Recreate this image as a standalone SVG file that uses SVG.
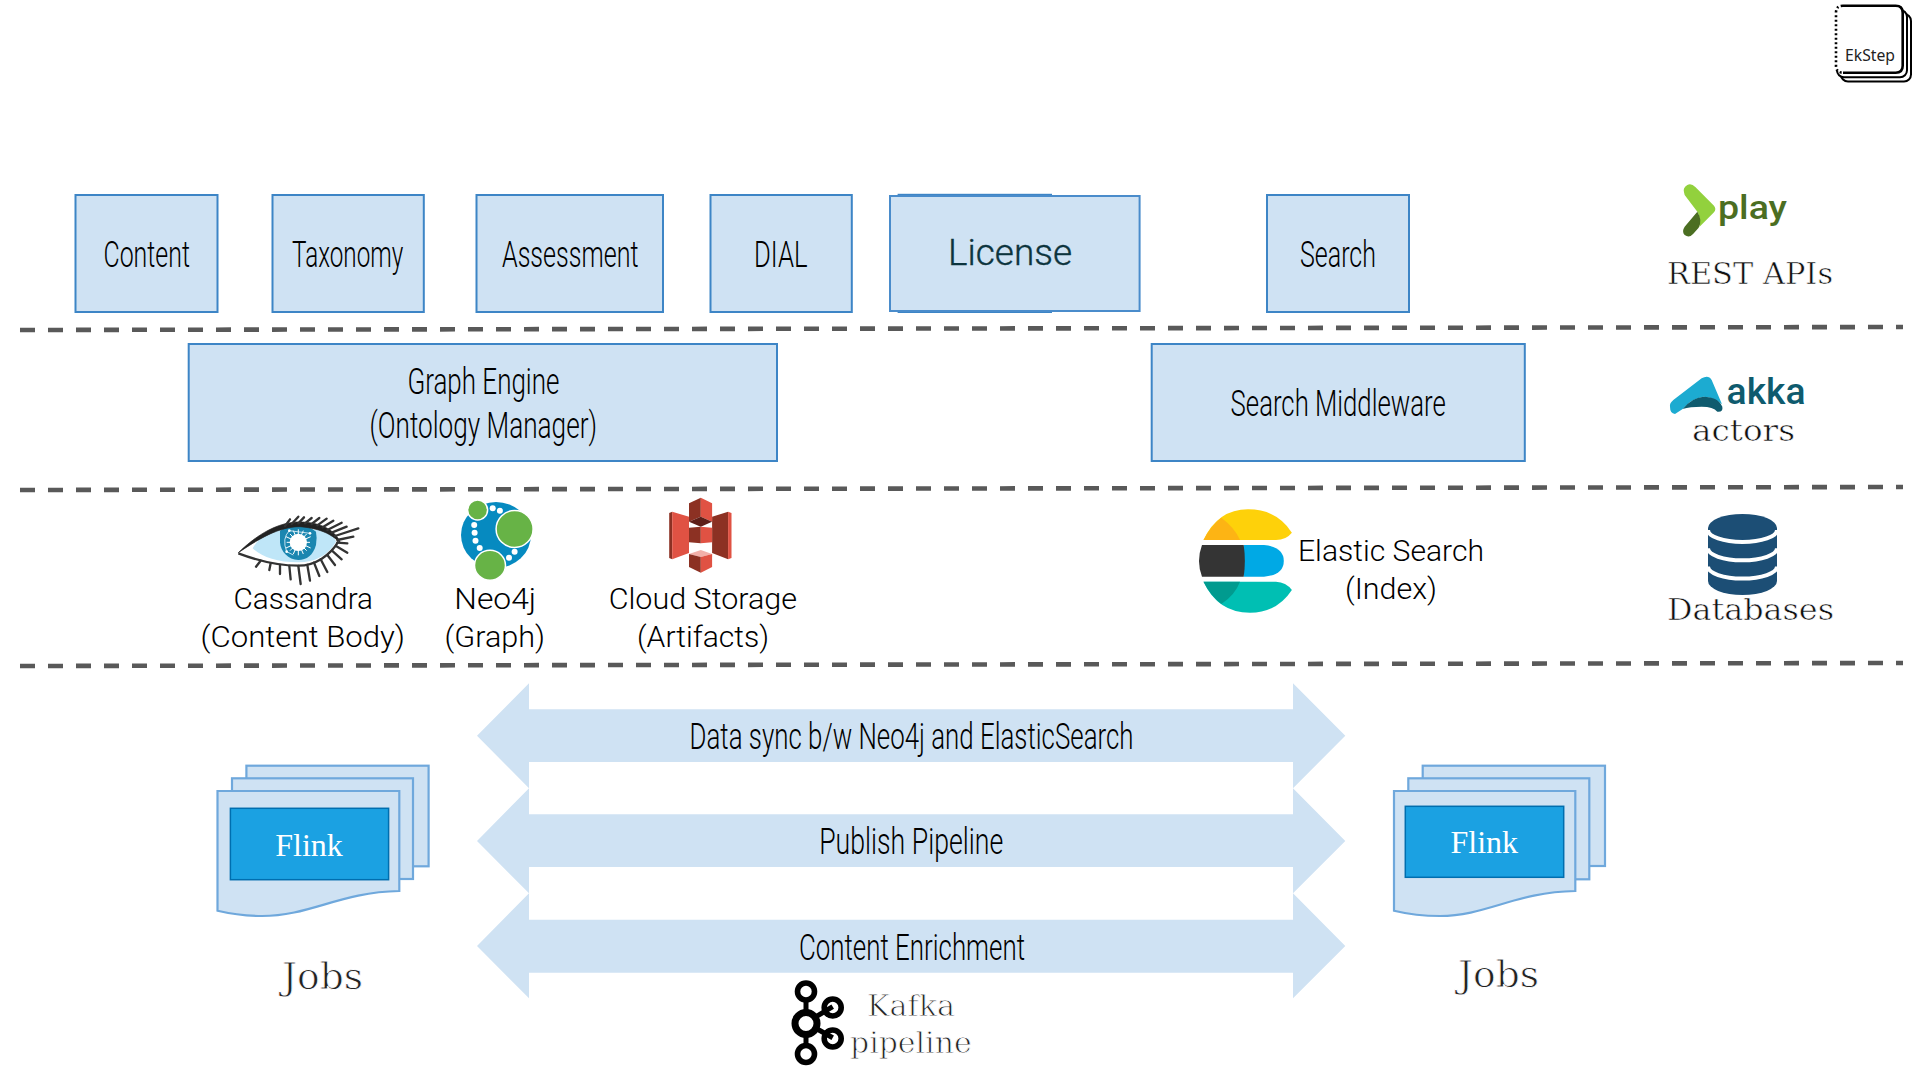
<svg xmlns="http://www.w3.org/2000/svg" width="1921" height="1081" viewBox="0 0 1921 1081">
<style>
text{font-family:"Roboto","Liberation Sans",sans-serif}
.box{fill:#cfe2f3;stroke:#3d85c6;stroke-width:2}
.cond{font-family:"Roboto","Liberation Sans Narrow",sans-serif;font-weight:300;font-size:36px;fill:#000}
.body{font-family:"Roboto","Liberation Sans",sans-serif;font-weight:300;font-size:30px;fill:#000}
.slab{font-family:"DejaVu Serif",serif;fill:#111;font-size:30px;stroke:#fff;stroke-width:.6px}
.thin{fill:#222;stroke-width:.85px}
.flink{font-family:"Liberation Serif",serif;font-size:32px;fill:#fff}
.page{fill:#cfe2f3;stroke:#6fa8dc;stroke-width:2.2}
.job{fill:#1ba1e2;stroke:#006eaf;stroke-width:1.5}
.dash{fill:none;stroke:#595959;stroke-width:4.6;stroke-dasharray:15 13}
.band{fill:#cfe2f3}
.lash{stroke:#333;stroke-width:7;fill:none;stroke-linecap:round}
.ring{fill:none;stroke:#000;stroke-width:5.6}
.link{stroke:#000;stroke-width:5;fill:none}
.dot{fill:#fff}
</style>

<g id="connectors">
<path class="dash" d="M20 330L1903 327"/>
<path class="dash" d="M20 490L1903 487"/>
<path class="dash" d="M20 666L1903 663"/>
<path class="band" d="M477 735.7L529 683.3V709.3H1293V683.3L1345.3 735.7L1293 788.3V762H529V788.3Z"/>
<path class="band" d="M477 841L529 788.3V814.3H1293V788.3L1345.3 841L1293 893.3V867H529V893.3Z"/>
<path class="band" d="M477 946L529 893.3V919.7H1293V893.3L1345.3 946L1293 998.3V972.7H529V998.3Z"/>
<text class="cond" x="689.5" y="748.8" textLength="444" lengthAdjust="spacingAndGlyphs">Data sync b/w Neo4j and ElasticSearch</text>
<text class="cond" x="819.2" y="854.2" textLength="184" lengthAdjust="spacingAndGlyphs">Publish Pipeline</text>
<text class="cond" x="799" y="959.8" textLength="226" lengthAdjust="spacingAndGlyphs">Content Enrichment</text>
</g>

<g id="node-content"><rect class="box" x="75.5" y="195" width="142" height="117"/><text class="cond" x="103.500" y="266.7" textLength="86.4" lengthAdjust="spacingAndGlyphs">Content</text></g>
<g id="node-taxonomy"><rect class="box" x="272.5" y="195" width="151.300" height="117"/><text class="cond" x="292" y="266.7" textLength="111.300" lengthAdjust="spacingAndGlyphs">Taxonomy</text></g>
<g id="node-assessment"><rect class="box" x="476.5" y="195" width="186.500" height="117"/><text class="cond" x="502" y="266.7" textLength="136.500" lengthAdjust="spacingAndGlyphs">Assessment</text></g>
<g id="node-dial"><rect class="box" x="710.5" y="195" width="141.300" height="117"/><text class="cond" x="754" y="266.7" textLength="53.500" lengthAdjust="spacingAndGlyphs">DIAL</text></g>
<g id="node-license">
<rect class="box" x="898.6" y="194.800" width="152.400" height="117.200"/>
<rect x="890" y="196" width="249.600" height="115" fill="#cfe2f3" stroke="#4a8ccb" stroke-width="2"/>
<text x="948" y="265" font-size="36" font-weight="300" fill="#0c343d" stroke="#0c343d" stroke-width=".35" textLength="124" lengthAdjust="spacingAndGlyphs">License</text></g>
<g id="node-search"><rect class="box" x="1267" y="195" width="142" height="117"/><text class="cond" x="1300" y="266.7" textLength="76" lengthAdjust="spacingAndGlyphs">Search</text></g>
<g id="node-graph-engine"><rect class="box" x="188.7" y="344" width="588.300" height="117"/><text class="cond" x="407.400" y="393.800" textLength="152" lengthAdjust="spacingAndGlyphs">Graph Engine</text><text class="cond" x="369.500" y="437.800" textLength="227.500" lengthAdjust="spacingAndGlyphs">(Ontology Manager)</text></g>
<g id="node-search-middleware"><rect class="box" x="1151.700" y="344" width="373.100" height="117"/><text class="cond" x="1230.600" y="415.700" textLength="215.100" lengthAdjust="spacingAndGlyphs">Search Middleware</text></g>

<g id="node-ekstep">
<rect x="1841" y="14" width="70" height="67.500" rx="7" fill="#fff" stroke="#000" stroke-width="2"/>
<rect x="1837" y="10" width="70" height="67.300" rx="7" fill="#fff" stroke="#000" stroke-width="2"/>
<path d="M1843 5.700H1895.700Q1902.700 5.700 1902.700 12.700V65.700Q1902.700 72.700 1895.700 72.700H1843" fill="#fff" stroke="#000" stroke-width="2.600"/>
<rect x="1834.500" y="8" width="9" height="63" fill="#fff"/>
<path d="M1843 5.700Q1836 5.700 1836 12.700V65.700Q1836 72.700 1843 72.700" fill="none" stroke="#000" stroke-width="2.600" stroke-dasharray="2 2.500"/>
<text x="1845" y="61" font-size="16" fill="#222" textLength="50" lengthAdjust="spacingAndGlyphs" style="font-family:'Noto Sans',sans-serif">EkStep</text>
</g>

<g id="node-play">
<g transform="translate(1660 175) scale(.3333)">
<path d="M72 52Q68 38 82 30Q94 24 106 36L162 92Q170 102 162 112L118 156Q124 130 112 110L74 60Z" fill="#92d13d"/>
<path d="M112 110Q128 135 116 158L100 176Q88 190 74 180Q64 170 74 155Z" fill="#4b6e22"/>
</g>
<text x="1718" y="219" font-size="33" font-weight="500" fill="#4b6e22" textLength="69" lengthAdjust="spacingAndGlyphs">play</text>
<text class="slab" x="1667" y="284" textLength="166" lengthAdjust="spacingAndGlyphs">REST APIs</text>
</g>

<g id="node-akka">
<g transform="translate(1660 365) scale(.3333)">
<path d="M30 125Q28 115 40 105L125 40Q145 28 155 45L186 118Q160 95 130 95Q95 100 68 132L45 147Q30 145 30 125Z" fill="#1cabd1"/>
<path d="M68 132Q95 98 130 95Q175 95 187 125Q190 142 172 140Q160 125 125 125Q90 125 68 132Z" fill="#0f5b6e"/>
</g>
<text x="1726.600" y="403.500" font-size="36" font-weight="500" fill="#0f5b6e" textLength="79" lengthAdjust="spacingAndGlyphs">akka</text>
<text class="slab" x="1692" y="441" textLength="103" lengthAdjust="spacingAndGlyphs">actors</text>
</g>

<g id="node-cassandra">
<g transform="translate(230 510) scale(.3333)">
<path d="M25 128C70 85 130 45 200 40C260 38 305 55 325 95C300 135 255 165 205 165C130 165 70 145 25 128Z" fill="#fff"/>
<path d="M68 115C85 85 115 62 145 52L290 60C305 72 315 85 318 95C295 135 255 157 205 157C140 157 95 140 68 115Z" fill="#bfe6f8"/>
<path d="M150 62Q175 46 205 45Q235 46 258 65Q262 85 258 105C250 135 230 150 205 150C175 150 152 125 150 97Q150 75 150 62Z" fill="#1a86b0"/>
<circle cx="205" cy="97" r="26" fill="#fff"/>
<path d="M205 58V136M170 97H240M180 72L230 122M230 72L180 122M190 62L220 132M220 62L190 132M168 80L242 114M242 80L168 114" stroke="#fff" stroke-width="3"/>
<path d="M170 125Q155 85 178 62L240 70M170 125L190 135" fill="none" stroke="#e6f4fb" stroke-width="2.500"/>
<circle cx="178" cy="62" r="4" fill="#fff"/><circle cx="170" cy="125" r="4" fill="#fff"/><circle cx="240" cy="70" r="4" fill="#fff"/>
<path d="M25 128C70 85 130 40 200 36C262 34 315 55 332 100C310 78 280 56 210 50C145 50 85 88 25 128Z" fill="#222" stroke="#222" stroke-width="2"/>
<path d="M25 130C70 147 130 167 205 167C255 167 300 137 325 95" fill="none" stroke="#333" stroke-width="7"/>
<path class="lash" d="M165 48L180 28M185 42L205 20M205 40L222 22M225 40L245 24M245 42L268 24M262 46L290 26M278 52L310 32M292 60L335 38M305 68L350 50M315 78L385 55M322 90L370 80M92 152L78 170M122 160L118 180M150 165L150 192M178 168L182 208M205 168L212 222M232 165L240 212M252 158L268 198M272 148L292 186M292 135L315 165M306 122L335 148M318 108L352 128M322 98L352 100"/>
</g>
<text class="body" x="233.500" y="609" textLength="139.500" lengthAdjust="spacingAndGlyphs">Cassandra</text>
<text class="body" x="200.500" y="646.700" textLength="204.500" lengthAdjust="spacingAndGlyphs">(Content Body)</text>
</g>

<g id="node-neo4j">
<ellipse cx="496" cy="535" rx="35" ry="33" fill="#068ac0"/>
<g fill="#67b346" stroke="#fff" stroke-width="1.500">
<ellipse cx="477.600" cy="510" rx="10" ry="10"/>
<ellipse cx="514.600" cy="529" rx="18.500" ry="18.500"/>
<ellipse cx="490" cy="565.300" rx="15.500" ry="15"/>
</g>
<circle class="dot" cx="492.700" cy="508.300" r="3"/><circle class="dot" cx="499.900" cy="510.700" r="3"/><circle class="dot" cx="474.200" cy="525" r="3"/><circle class="dot" cx="474.600" cy="532.700" r="3"/><circle class="dot" cx="475.500" cy="540.700" r="3"/><circle class="dot" cx="479.700" cy="548" r="3"/><circle class="dot" cx="514.600" cy="551.700" r="3"/><circle class="dot" cx="509" cy="557.700" r="3"/>
<text class="body" x="454.300" y="609" textLength="81.800" lengthAdjust="spacingAndGlyphs">Neo4j</text>
<text class="body" x="444.500" y="646.700" textLength="100.500" lengthAdjust="spacingAndGlyphs">(Graph)</text>
</g>

<g id="node-cloud-storage">
<g transform="translate(1 0)">
<path d="M668.200 513V558L671.200 559.300V511.700Z" fill="#8c3123"/>
<path d="M671.200 511.700L688 516.700V553L671.200 559.300Z" fill="#e05243"/>
<path d="M711.100 516.700L727.100 511.700V559.300L711.100 553Z" fill="#8c3123"/>
<path d="M727.100 511.700L730.500 513V558L727.100 559.300Z" fill="#e05243"/>
<path d="M688 503.300L699.800 497.700V516.700L688 521.700Z" fill="#8c3123"/>
<path d="M699.800 497.700L711.100 503.300V521.700L699.800 516.700Z" fill="#e05243"/>
<path d="M688 521.700L699.800 516.700L711.100 521.700L699.800 526.700Z" fill="#5e1f18"/>
<path d="M688 527.700L699.800 526.700V543.300L688 542.300Z" fill="#8c3123"/>
<path d="M699.800 526.700L711.100 527.700V542.300L699.800 543.300Z" fill="#e05243"/>
<path d="M688 554L699.800 550L711.100 554L699.800 557Z" fill="#f2b0a9"/>
<path d="M688 554L699.800 557V572.700L688 567Z" fill="#8c3123"/>
<path d="M699.800 557L711.100 554V567L699.800 572.700Z" fill="#e05243"/>
</g>
<text class="body" x="608.700" y="609" textLength="188.300" lengthAdjust="spacingAndGlyphs">Cloud Storage</text>
<text class="body" x="637" y="646.700" textLength="132" lengthAdjust="spacingAndGlyphs">(Artifacts)</text>
</g>

<g id="node-elastic">
<path d="M1203.500 540Q1218 509.300 1248 509.300Q1277 509.300 1291.900 532.700Q1286 540 1276 540Z" fill="#fed10a"/>
<path d="M1203.500 540Q1210 527 1221.300 517.700Q1235 528 1240 540Z" fill="#fdb414"/>
<path d="M1243.700 545H1264Q1283.800 547 1283.800 561Q1283.800 575 1264 576.700H1243.700Z" fill="#00a9e5"/>
<path d="M1202 545H1243.700Q1246 561 1243.700 576.700H1202Q1196 561 1202 545Z" fill="#343434"/>
<path d="M1203.500 581.700H1276Q1286 582 1291.900 590Q1277 612.700 1250 612.700Q1218 612.700 1203.500 581.700Z" fill="#00bfb3"/>
<path d="M1203.500 581.700H1240Q1235 595 1221.300 604Q1210 595 1203.500 581.700Z" fill="#019b8f"/>
<text class="body" x="1298" y="560.700" textLength="186" lengthAdjust="spacingAndGlyphs">Elastic Search</text>
<text class="body" x="1345" y="599" textLength="92" lengthAdjust="spacingAndGlyphs">(Index)</text>
</g>

<g id="node-databases">
<path d="M1708 528A34.500 14 0 0 1 1777 528V581A34.500 14 0 0 1 1708 581Z" fill="#1c4e75"/>
<path d="M1708 530A34.500 12 0 0 0 1777 530M1708 548.300A34.500 12 0 0 0 1777 548.300M1708 566.600A34.500 12 0 0 0 1777 566.600" fill="none" stroke="#fff" stroke-width="4"/>
<text class="slab" x="1667" y="619.500" textLength="167" lengthAdjust="spacingAndGlyphs">Databases</text>
</g>

<g id="node-jobs-left">
<rect class="page" x="246.400" y="765.700" width="182.200" height="100.600"/>
<rect class="page" x="232" y="778.300" width="181" height="100.700"/>
<path class="page" d="M217.500 791H399.300V891C340 892 310 916 262 916Q240 916 217.500 910.700Z"/>
<rect class="job" x="230.400" y="808.300" width="158.200" height="71.400"/>
<text class="flink" x="309" y="855.500" text-anchor="middle">Flink</text>
<text class="slab thin" x="282" y="989" font-size="37" style="font-size:37px" textLength="81" lengthAdjust="spacingAndGlyphs">Jobs</text>
</g>

<g id="node-jobs-right">
<rect class="page" x="1422.700" y="765.700" width="182.300" height="100.300"/>
<rect class="page" x="1408.300" y="778.300" width="181" height="101"/>
<path class="page" d="M1394 791H1575.300V891C1516 892 1486 916 1440 916Q1416 916 1394 910.700Z"/>
<rect class="job" x="1405.300" y="806.300" width="158.400" height="71"/>
<text class="flink" x="1484.300" y="853.200" text-anchor="middle">Flink</text>
<text class="slab thin" x="1458" y="987" style="font-size:37px" textLength="81" lengthAdjust="spacingAndGlyphs">Jobs</text>
</g>

<g id="node-kafka">
<path class="link" d="M806 998V1046M806 1022.700L832.700 1006.700M806 1022.700L832.700 1037.700"/>
<circle class="ring" cx="806" cy="991.500" r="8.500"/>
<circle class="ring" cx="832.700" cy="1007.500" r="8.500"/>
<circle cx="806" cy="1023.500" r="11" fill="#fff" stroke="#000" stroke-width="7"/>
<circle class="ring" cx="832.700" cy="1038.500" r="8.500"/>
<circle class="ring" cx="806" cy="1054" r="8.500"/>
<text class="slab thin" x="867" y="1016" textLength="88" lengthAdjust="spacingAndGlyphs">Kafka</text>
<text class="slab thin" x="850" y="1053" textLength="121.600" lengthAdjust="spacingAndGlyphs">pipeline</text>
</g>
</svg>
